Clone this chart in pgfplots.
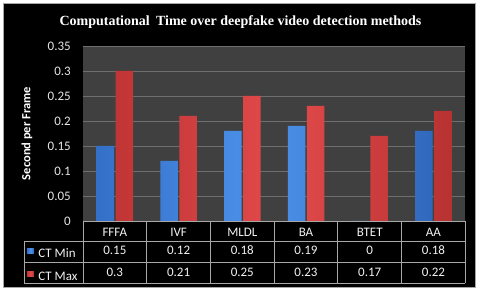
\documentclass[border=0pt]{standalone}
\usepackage{pgfplots}
\pgfplotsset{compat=1.18}
\usepackage{pgfplotstable}
\usepackage{fontspec}
\setmainfont{Carlito}
\newfontfamily\titlefont{Liberation Serif}
\definecolor{plotbg}{HTML}{404040}
\definecolor{gridc}{HTML}{6E6E6E}
\definecolor{tablec}{HTML}{A8A8A8}
\definecolor{tabtext}{HTML}{F2F2F2}
\definecolor{tickc}{HTML}{E6E6E6}
\definecolor{blueL}{HTML}{3470C8}
\definecolor{blueM}{HTML}{4C92EA}
\definecolor{blueR}{HTML}{3068BC}
\definecolor{redL}{HTML}{C03535}
\definecolor{redM}{HTML}{E24A4A}
\definecolor{redR}{HTML}{B83232}
\pgfplotsset{sqlegend/.style={legend image code/.code={\path[##1, draw=none] (0pt,0pt) rectangle (7pt,5.5pt); \path (7pt,0pt) -- (11.5pt,0pt);}}}
\pgfplotstableread{
x name min max
0 FFFA 0.15 0.3
1 IVF 0.12 0.21
2 MLDL 0.18 0.25
3 BA 0.19 0.23
4 BTET 0 0.17
5 AA 0.18 0.22
}\data
\begin{document}
\begin{tikzpicture}[x=1pt,y=1pt]
\fill[white] (0,0) rectangle (480,292);
\fill[black] (3,5) rectangle (475.5,289);
\draw[gray!70, line width=0.6pt] (3,5) rectangle (475.5,289);
\node[text=white, font=\titlefont\bfseries\fontsize{14}{16}\selectfont, anchor=base] at (240.5,266) {Computational\hspace{0.45em}Time over deepfake video detection methods};
\begin{axis}[
  at={(83pt,71pt)}, anchor=south west,
  scale only axis, width=382.3pt, height=175pt,
  xmin=-0.5, xmax=5.5, ymin=0, ymax=0.35,
  ytick={0,0.05,0.1,0.15,0.2,0.25,0.3,0.35},
  xtick={0,1,2,3,4,5},
  xticklabels from table={\data}{name},
  ymajorgrids,
  grid style={draw=gridc, line width=0.8pt},
  axis background/.style={fill=plotbg},
  axis line style={draw=none},
  major tick length=0pt,
  clip=false,
  /pgf/number format/assume math mode=true,
  /pgf/number format/fixed,
  yticklabel style={font=\fontsize{13}{15}\selectfont, text=tickc, xshift=-8.7pt},
  xticklabel style={font=\fontsize{13}{15}\selectfont, text=tabtext, anchor=base, yshift=-15.5pt},
  ylabel={Second per Frame},
  ylabel style={at={(axis description cs:-0.1465,0.5)}, anchor=center, font=\bfseries\fontsize{12.5}{15}\selectfont, text=white},
  legend style={at={(axis description cs:-0.1465,-0.1563)}, anchor=north west, draw=none, fill=none,
    inner sep=0pt, outer sep=0pt, row sep=12.3pt, font=\fontsize{13}{15}\selectfont, text=tabtext,
    nodes={inner sep=0pt}, /tikz/every even column/.append style={column sep=0pt}},
  legend cell align=left,
]
\addplot[ybar, bar width=17.5pt, bar shift=-9.5pt, draw=none, left color=blueL, right color=blueR, middle color=blueM, sqlegend]
  table[x=x, y=min]{\data};
\addlegendentry{CT Min}
\addplot[ybar, bar width=17.5pt, bar shift=9.5pt, draw=none, left color=redL, right color=redR, middle color=redM, sqlegend]
  table[x=x, y=max]{\data};
\addlegendentry{CT Max}
\addplot[draw=none, mark=none, forget plot, nodes near coords, point meta=explicit symbolic,
  every node near coord/.append style={anchor=base, font=\fontsize{13}{15}\selectfont, text=tabtext}]
  table[x=x, y expr=-0.0678, meta=min]{\data};
\addplot[draw=none, mark=none, forget plot, nodes near coords, point meta=explicit symbolic,
  every node near coord/.append style={anchor=base, font=\fontsize{13}{15}\selectfont, text=tabtext}]
  table[x=x, y expr=-0.1118, meta=max]{\data};
\end{axis}
\begin{scope}[draw=tablec, line width=0.8pt]
\draw (83,71) -- (465.3,71);
\draw (24,50.3) -- (465.3,50.3);
\draw (24,29.7) -- (465.3,29.7);
\draw (24,9) -- (465.3,9);
\draw (24,50.3) -- (24,9);
\foreach \k in {0,...,6} { \draw ({83+\k*63.72},71) -- ({83+\k*63.72},9); }
\end{scope}
\end{tikzpicture}
\end{document}
